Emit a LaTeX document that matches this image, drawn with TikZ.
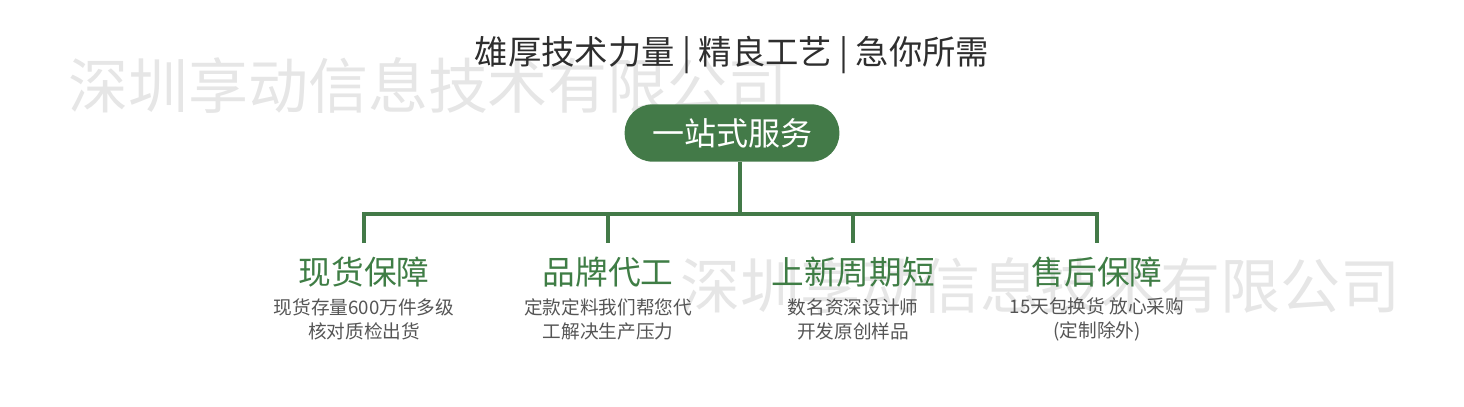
\documentclass[tikz,border=0pt]{standalone}
\usepackage{fontspec}
\newfontfamily\cjk{Noto Sans CJK SC}
\definecolor{vertfonce}{HTML}{437A48}
\definecolor{verttitre}{HTML}{3F7D45}
\definecolor{grisdetail}{HTML}{555555}
\definecolor{grisdevise}{HTML}{2E2E2E}
\definecolor{grisfiligrane}{HTML}{E6E6E6}
\begin{document}
\begin{tikzpicture}[x=0.75pt,y=-0.75pt]
	% Styles
	\tikzstyle{trait}=[-,line width=2.5pt,vertfonce]
	\tikzstyle{devise}=[text=grisdevise,font=\cjk\fontsize{25}{29}\selectfont]
	\tikzstyle{pilule}=[fill=vertfonce,rounded corners=21pt,minimum width=161pt,minimum height=43pt,text=white,font=\cjk\fontsize{24}{28}\selectfont]
	\tikzstyle{titre}=[text=verttitre,inner sep=0pt,font=\cjk\fontsize{24.5}{28}\selectfont]
	\tikzstyle{detail}=[text=grisdetail,align=center,inner sep=0pt,font=\cjk\fontsize{14}{18}\selectfont]
	\tikzstyle{filigrane}=[text=grisfiligrane,inner sep=0pt,font=\cjk\fontsize{45}{50}\selectfont]
	% Dimensions
	\def\Barre{214}
	\def\Chute{243}
	\def\Tige{740}
	\def\NiveauTitre{272}
	\def\NiveauDetail{319}
	\useasboundingbox (0,0) rectangle (1464,407);
	% Filigrane
	\node[filigrane] (filA) at (428,85) {深圳享动信息技术有限公司};
	\node[filigrane] (filB) at (1040,285) {深圳享动信息技术有限公司};
	% Noeuds
	\node[devise] (devise) at (732,55) {雄厚技术力量 | 精良工艺 | 急你所需};
	\node[pilule] (service) at (732,133) {一站式服务};
	\node[titre] (titreA) at (364,\NiveauTitre) {现货保障};
	\node[titre] (titreB) at (608,\NiveauTitre) {品牌代工};
	\node[titre] (titreC) at (853,\NiveauTitre) {上新周期短};
	\node[titre] (titreD) at (1097,\NiveauTitre) {售后保障};
	\node[detail] (detailA) at (364,\NiveauDetail) {现货存量600万件多级\\核对质检出货};
	\node[detail] (detailB) at (608,\NiveauDetail) {定款定料我们帮您代\\工解决生产压力};
	\node[detail] (detailC) at (853,\NiveauDetail) {数名资深设计师\\开发原创样品};
	\node[detail] (detailD) at (1097,\NiveauDetail) {15天包换货 放心采购\\(定制除外)};
	% Points de raccord
	\coordinate (jonction) at (\Tige,\Barre);
	\coordinate (chuteA) at (364,\Chute);
	\coordinate (chuteB) at (608,\Chute);
	\coordinate (chuteC) at (853,\Chute);
	\coordinate (chuteD) at (1097,\Chute);
	% Arcs
	\draw[trait] (jonction |- service.south)--(jonction);
	\draw[trait] (chuteA)--(chuteA |- jonction)--(chuteD |- jonction)--(chuteD);
	\draw[trait] (chuteB |- jonction)--(chuteB);
	\draw[trait] (chuteC |- jonction)--(chuteC);
\end{tikzpicture}
\end{document}
